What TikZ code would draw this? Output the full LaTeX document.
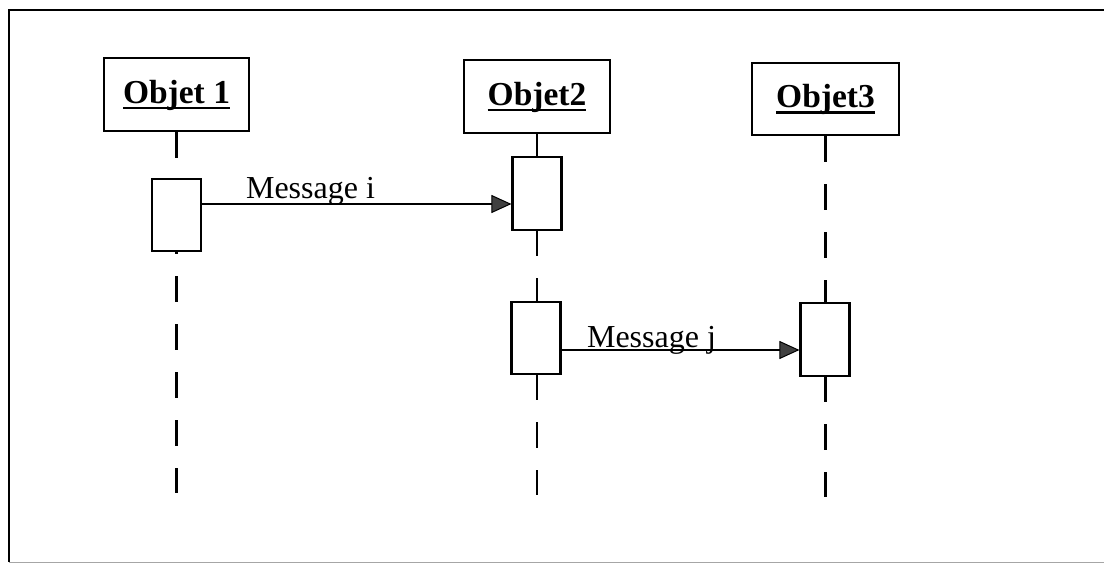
\documentclass[tikz,border=0pt]{standalone}
\usepackage{fontspec}
\setmainfont{Liberation Serif}
\usetikzlibrary{arrows.meta}
% underlined header text with a heavier rule close to the baseline
\newcommand\headtext[1]{\setbox0=\hbox{#1}\vtop{\copy0\kern-\dp0\kern3.5pt\hrule height 2.6pt}}
\begin{document}
\begin{tikzpicture}[x=1pt,y=-1pt,
  line width=2.1pt,
  objbox/.style={draw=black, fill=white, minimum width=145pt, minimum height=73pt,
    inner sep=0pt, font=\fontsize{33.5}{38}\selectfont\bfseries},
  actbox/.style={draw=black, fill=white, minimum width=49pt, minimum height=72pt, inner sep=0pt},
  lifeline/.style={draw=black, dash pattern=on 26pt off 22pt},
  msg/.style={draw=black, line width=1.8pt, -{Triangle[length=20pt,width=18pt,fill=black!75,line width=1pt]}},
  msglabel/.style={anchor=base west, inner sep=0pt, font=\fontsize{32}{38}\selectfont}
]
  \useasboundingbox (0,0) rectangle (1104,564);
  \fill[white] (0,0) rectangle (1104,564);

  % outer frame
  \draw[line width=2.2pt] (1104,10) -- (9,10) -- (9,562);
  \draw[line width=1.6pt, black!35] (9,562.5) -- (1104,562.5);

  % object headers
  \node[objbox] (o1) at (176.5,94.5) {\headtext{Objet 1}};
  \node[objbox, minimum width=146pt] (o2) at (537,96.5) {\headtext{Objet2}};
  \node[objbox, minimum width=147pt, minimum height=72pt] (o3) at (825.5,99) {\headtext{Objet3}};

  % lifeline ends
  \coordinate (e1) at (176.5,493);
  \coordinate (e2) at (537,495);
  \coordinate (e3) at (825.5,497);

  \draw[lifeline] (o1.south) -- (e1);
  \draw[lifeline] (o2.south) -- (e2);
  \draw[lifeline] (o3.south) -- (e3);

  % activation bars
  \node[actbox] (a1) at (176.5,215) {};
  \node[actbox, minimum height=73pt] (b1) at (537,193.5) {};
  \node[actbox] (b2) at (536,338) {};
  \node[actbox, minimum height=73pt] (c1) at (825,339.5) {};

  % messages
  \coordinate (mi) at (0,204);
  \coordinate (mj) at (0,350);
  \draw[msg] (a1.east |- mi) -- (b1.west |- mi);
  \draw[msg] (b2.east |- mj) -- (c1.west |- mj);

  \node[msglabel] (li) at (245,199) {Message i};
  \node[msglabel] (lj) at (586,348) {Message j};
\end{tikzpicture}
\end{document}
